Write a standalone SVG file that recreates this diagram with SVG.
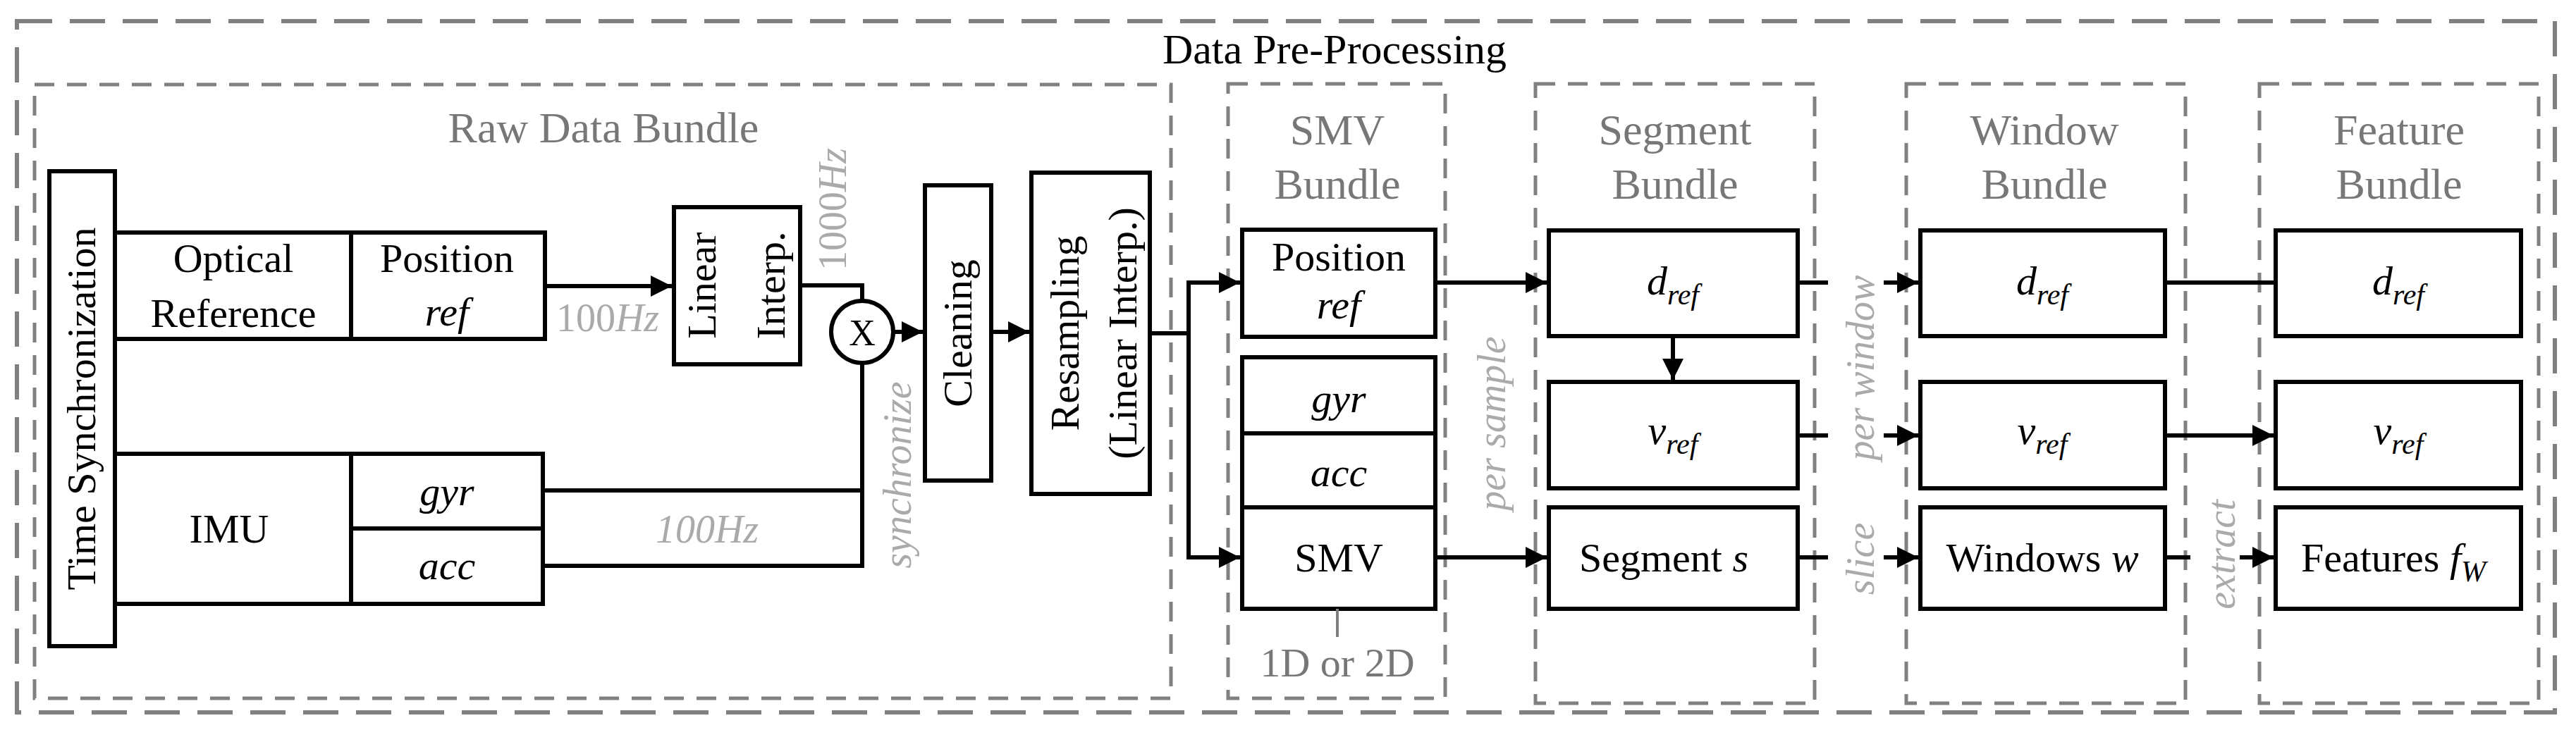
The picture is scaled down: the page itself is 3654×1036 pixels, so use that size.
<svg xmlns="http://www.w3.org/2000/svg" width="3654" height="1036" viewBox="0 0 3654 1036">
<style>
text{font-family:"Liberation Serif","Times New Roman",serif;font-size:58px;fill:#000;text-anchor:middle}
.it{font-style:italic}
.lab{fill:#777;font-size:62px}
.note{fill:#aaa;font-style:italic;font-size:56px}
.box{fill:#fff;stroke:#000;stroke-width:6}
.ln{fill:none;stroke:#000;stroke-width:6}
.dash{fill:none;stroke:#808080;stroke-width:5;stroke-dasharray:28 18}
.odash{fill:none;stroke:#808080;stroke-width:6;stroke-dasharray:50 25}
.sub{font-size:42px}
</style>
<defs>
<marker id="ah" viewBox="0 0 10 10" refX="10" refY="5" markerWidth="5" markerHeight="5" markerUnits="strokeWidth" orient="auto"><path d="M0,0L10,5L0,10z" fill="#000"/></marker>
</defs>
<g id="frames">
<rect class="odash" x="24" y="30" width="3600" height="981"/>
<text x="1893" y="90" style="font-size:60px">Data Pre-Processing</text>
<rect class="dash" x="49" y="120" width="1612" height="871"/>
<text class="lab" x="856" y="202">Raw Data Bundle</text>
<rect class="dash" x="1742" y="119" width="308" height="872"/>
<text class="lab" x="1897" y="205">SMV</text><text class="lab" x="1897" y="282">Bundle</text>
<rect class="dash" x="2178" y="119" width="396" height="879"/>
<text class="lab" x="2376" y="205">Segment</text><text class="lab" x="2376" y="282">Bundle</text>
<rect class="dash" x="2704" y="119" width="396" height="879"/>
<text class="lab" x="2900" y="205">Window</text><text class="lab" x="2900" y="282">Bundle</text>
<rect class="dash" x="3205" y="119" width="396" height="879"/>
<text class="lab" x="3403" y="205">Feature</text><text class="lab" x="3403" y="282">Bundle</text>
</g>
<g id="timesync"><rect class="box" x="70" y="243" width="93" height="674"/>
<text transform="translate(135,580) rotate(-90)">Time Synchronization</text></g>
<g id="optical"><path class="ln" d="M163,330H773V481H163M498,330V481"/>
<text x="331" y="386">Optical</text><text x="331" y="464">Reference</text>
<text x="634" y="386">Position</text><text class="it" x="634" y="462">ref</text></g>
<g id="imu"><path class="ln" d="M163,644H770V857H163M498,644V857M498,750H770"/>
<text x="325" y="770">IMU</text><text class="it" x="634" y="717">gyr</text><text class="it" x="634" y="822">acc</text></g>
<g id="linear"><rect class="box" x="956" y="294" width="179" height="223"/>
<text transform="translate(1015,405) rotate(-90)">Linear</text><text transform="translate(1113,405) rotate(-90)">Interp.</text></g>
<g id="sync"><circle class="box" cx="1223" cy="471" r="44"/><text x="1223" y="490" style="font-size:52px">X</text></g>
<g id="cleaning"><rect class="box" x="1312" y="263" width="94" height="419"/>
<text transform="translate(1378,473) rotate(-90)">Cleaning</text></g>
<g id="resampling"><rect class="box" x="1463" y="245" width="168" height="456"/>
<text transform="translate(1530,473) rotate(-90)">Resampling</text><text transform="translate(1612,473) rotate(-90)">(Linear Interp.)</text></g>
<g id="smvpos"><rect class="box" x="1762" y="326" width="274" height="152"/>
<text x="1899" y="384">Position</text><text class="it" x="1899" y="452">ref</text></g>
<g id="smvstack"><rect class="box" x="1762" y="507" width="274" height="357"/>
<path class="ln" d="M1762,615H2036M1762,720H2036"/>
<text class="it" x="1899" y="585">gyr</text><text class="it" x="1899" y="690">acc</text><text x="1899" y="811">SMV</text>
<path d="M1897,864V904" stroke="#808080" stroke-width="4"/>
<text class="lab" x="1897" y="960" style="font-size:58px">1D or 2D</text></g>
<g id="seg_d"><rect class="box" x="2197" y="327" width="353" height="150"/><text class="it" x="2373" y="418">d<tspan class="sub" dy="14">ref</tspan></text></g>
<g id="seg_v"><rect class="box" x="2197" y="542" width="353" height="151"/><text class="it" x="2373" y="630">v<tspan class="sub" dy="14">ref</tspan></text></g>
<g id="seg_s"><rect class="box" x="2197" y="720" width="353" height="144"/><text x="2360" y="811">Segment <tspan class="it">s</tspan></text></g>
<g id="win_d"><rect class="box" x="2724" y="327" width="347" height="150"/><text class="it" x="2897" y="418">d<tspan class="sub" dy="14">ref</tspan></text></g>
<g id="win_v"><rect class="box" x="2724" y="542" width="347" height="151"/><text class="it" x="2897" y="630">v<tspan class="sub" dy="14">ref</tspan></text></g>
<g id="win_w"><rect class="box" x="2724" y="720" width="347" height="144"/><text x="2897" y="811">Windows <tspan class="it">w</tspan></text></g>
<g id="feat_d"><rect class="box" x="3228" y="327" width="348" height="150"/><text class="it" x="3402" y="418">d<tspan class="sub" dy="14">ref</tspan></text></g>
<g id="feat_v"><rect class="box" x="3228" y="542" width="348" height="151"/><text class="it" x="3402" y="630">v<tspan class="sub" dy="14">ref</tspan></text></g>
<g id="feat_f"><rect class="box" x="3228" y="720" width="348" height="144"/><text x="3395" y="811">Features <tspan class="it">f<tspan class="sub" dy="14">W</tspan></tspan></text></g>
<g id="connectors">
<path class="ln" d="M773,406H953" marker-end="url(#ah)"/>
<path class="ln" d="M1135,405H1223V427"/>
<path class="ln" d="M770,696H1223M770,803H1223V515"/>
<path class="ln" d="M1267,471H1309" marker-end="url(#ah)"/>
<path class="ln" d="M1406,471H1460" marker-end="url(#ah)"/>
<path class="ln" d="M1631,473H1686"/>
<path class="ln" d="M1686,473V401H1759" marker-end="url(#ah)"/>
<path class="ln" d="M1686,473V791H1759" marker-end="url(#ah)"/>
<path class="ln" d="M2036,401H2194" marker-end="url(#ah)"/>
<path class="ln" d="M2036,791H2194" marker-end="url(#ah)"/>
<path class="ln" d="M2373,477V539" marker-end="url(#ah)"/>
<path class="ln" d="M2550,401H2593M2672,401H2721" marker-end="url(#ah)"/>
<path class="ln" d="M2550,618H2593M2672,618H2721" marker-end="url(#ah)"/>
<path class="ln" d="M2550,791H2593M2672,791H2721" marker-end="url(#ah)"/>
<path class="ln" d="M3071,401H3228"/>
<path class="ln" d="M3071,618H3225" marker-end="url(#ah)"/>
<path class="ln" d="M3071,791H3107M3177,791H3225" marker-end="url(#ah)"/>
</g>
<g id="notes">
<text class="note" x="862" y="470" style="font-style:normal">100<tspan class="it">Hz</tspan></text>
<text class="note" x="1003" y="770">100Hz</text>
<text class="note" transform="translate(1200,297) rotate(-90)" style="font-style:normal">1000<tspan class="it">Hz</tspan></text>
<text class="note" transform="translate(1292,674) rotate(-90)">synchronize</text>
<text class="note" transform="translate(2135,601) rotate(-90)">per sample</text>
<text class="note" transform="translate(2658,522) rotate(-90)">per window</text>
<text class="note" transform="translate(2658,793) rotate(-90)">slice</text>
<text class="note" transform="translate(3170,787) rotate(-90)">extract</text>
</g>
</svg>
